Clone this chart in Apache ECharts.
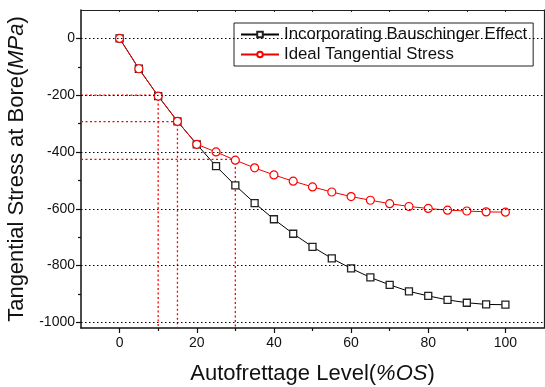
<!DOCTYPE html>
<html>
<head>
<meta charset="utf-8">
<script src="https://cdn.jsdelivr.net/npm/echarts@6/dist/echarts.min.js"></script>
<style>
    html, body { margin: 0; padding: 0; background: #fff; }
    #graph { width: 545px; height: 387px; }
</style>
</head>
<body>
<div id="graph"></div>
<script>
// autofrettage level (%OS)
var levels = [0, 5, 10, 15, 20, 25, 30, 35, 40, 45, 50, 55, 60, 65, 70, 75, 80, 85, 90, 95, 100];
// tangential stress at bore (MPa)
var bauschinger = [0, -107, -203, -292, -373, -450, -518, -580, -637, -688, -734, -775, -810, -842, -868, -891, -907, -921, -931, -937, -938];
var ideal = [0, -107, -203, -292, -373, -400, -429, -456, -481, -503, -523, -541, -557, -570, -582, -592, -599, -605, -608, -611, -612];
// red guide lines: level -> stress
var guideX = [10, 15, 30];
var guideY = [-200, -293, -426];
var xLabels = [0, 20, 40, 60, 80, 100];
var xMinor = [10, 30, 50, 70, 90];
var yLabels = [0, -200, -400, -600, -800, -1000];
var yMinor = [-100, -300, -500, -700, -900];

var X_MIN = -10, X_MAX = 110, Y_MIN = -1020, Y_MAX = 100;
var FONT = '"Liberation Sans", Arial, sans-serif';

function pairs(ys) {
    var out = [];
    for (var i = 0; i < levels.length; i++) {
        out.push([levels[i], ys[i]]);
    }
    return out;
}

function minorAxis(pos, min, max, values) {
    return {
        type: 'value', position: pos, min: min, max: max,
        axisLine: { show: false, onZero: false },
        axisTick: { show: true, customValues: values, length: 3, lineStyle: { color: '#111', width: 1.2 } },
        axisLabel: { show: false },
        splitLine: { show: false }
    };
}

function draw() {
    var dom = document.getElementById("graph");
    var myChart = echarts.init(dom);

    var gridLines = [];
    for (var i = 0; i < yLabels.length; i++) {
        gridLines.push({ yAxis: yLabels[i] });
    }
    // each guide: across from the left edge, then down to the bottom
    var guideSeries = [];
    for (var j = 0; j < guideX.length; j++) {
        guideSeries.push({
            type: 'line',
            silent: true,
            symbol: 'none',
            z: 2,
            lineStyle: { color: '#f00', type: [2, 2.5], width: 1.3 },
            data: [[X_MIN, guideY[j]], [guideX[j], guideY[j]], [guideX[j], Y_MIN]]
        });
    }

    var titleRich = {
        n: { fontSize: 22, fontFamily: FONT, color: '#111' },
        i: { fontSize: 22, fontFamily: FONT, color: '#111', fontStyle: 'italic' }
    };

    var option = {
        animation: false,
        textStyle: { fontFamily: FONT },
        grid: { left: 81, right: 1, top: 10, bottom: 59, containLabel: false, outerBoundsMode: 'none' },
        legend: {
            orient: 'vertical',
            left: 234,
            top: 23,
            padding: [3, 6, 3, 6],
            itemGap: 3,
            itemWidth: 38,
            itemHeight: 7,
            borderColor: '#222',
            borderWidth: 1,
            textStyle: { fontSize: 16.8, color: '#111', fontFamily: FONT },
            data: ['Incorporating Bauschinger Effect', 'Ideal Tangential Stress']
        },
        xAxis: [
            {
                type: 'value', position: 'bottom', min: X_MIN, max: X_MAX,
                name: '{n|Autofrettage Level(}{i|%OS}{n|)}',
                nameLocation: 'middle',
                nameGap: 35,
                nameTextStyle: { rich: titleRich },
                axisLine: { show: true, onZero: false, lineStyle: { color: '#111', width: 1.5 } },
                axisTick: { show: true, customValues: xLabels, length: 5, lineStyle: { color: '#111', width: 1.2 } },
                axisLabel: { customValues: xLabels, fontSize: 14, color: '#111', margin: 8 },
                splitLine: { show: false }
            },
            minorAxis('bottom', X_MIN, X_MAX, xMinor),
            {
                type: 'value', position: 'top', min: X_MIN, max: X_MAX,
                axisLine: { show: true, onZero: false, lineStyle: { color: '#222', width: 1.2 } },
                axisTick: { show: true, inside: true, customValues: xLabels.concat(xMinor), length: 2, lineStyle: { color: '#222' } },
                axisLabel: { show: false },
                splitLine: { show: false }
            }
        ],
        yAxis: [
            {
                type: 'value', position: 'left', min: Y_MIN, max: Y_MAX,
                name: '{n|Tangential Stress at Bore(}{i|MPa}{n|)}',
                nameLocation: 'middle',
                nameGap: 34,
                nameTextStyle: { rich: titleRich },
                axisLine: { show: true, onZero: false, lineStyle: { color: '#111', width: 1.5 } },
                axisTick: { show: true, customValues: yLabels, length: 5, lineStyle: { color: '#111', width: 1.2 } },
                axisLabel: {
                    customValues: yLabels, fontSize: 14, color: '#111', margin: 6,
                    formatter: function (v) { return String(v); }
                },
                splitLine: { show: false }
            },
            minorAxis('left', Y_MIN, Y_MAX, yMinor),
            {
                type: 'value', position: 'right', min: Y_MIN, max: Y_MAX,
                axisLine: { show: true, onZero: false, lineStyle: { color: '#222', width: 1.2 } },
                axisTick: { show: false },
                axisLabel: { show: false },
                splitLine: { show: false }
            }
        ],
        series: [
            {
                name: 'Incorporating Bauschinger Effect',
                type: 'line',
                data: pairs(bauschinger),
                symbol: 'rect',
                symbolSize: 7,
                color: '#000',
                lineStyle: { color: '#000', width: 1 },
                itemStyle: { color: '#fff', borderColor: '#222', borderWidth: 1.3 },
                z: 3,
                markLine: {
                    silent: true,
                    symbol: 'none',
                    label: { show: false },
                    lineStyle: { color: '#000', type: [1.5, 2.5], width: 1 },
                    data: gridLines
                }
            },
            {
                name: 'Ideal Tangential Stress',
                type: 'line',
                data: pairs(ideal),
                symbol: 'circle',
                symbolSize: 8,
                color: '#f00',
                lineStyle: { color: '#e00', width: 1 },
                itemStyle: { color: '#fff', borderColor: '#f00', borderWidth: 1.2 },
                z: 4
            }
        ].concat(guideSeries)
    };
    myChart.setOption(option, true);
}

draw();
</script>
</body>
</html>
